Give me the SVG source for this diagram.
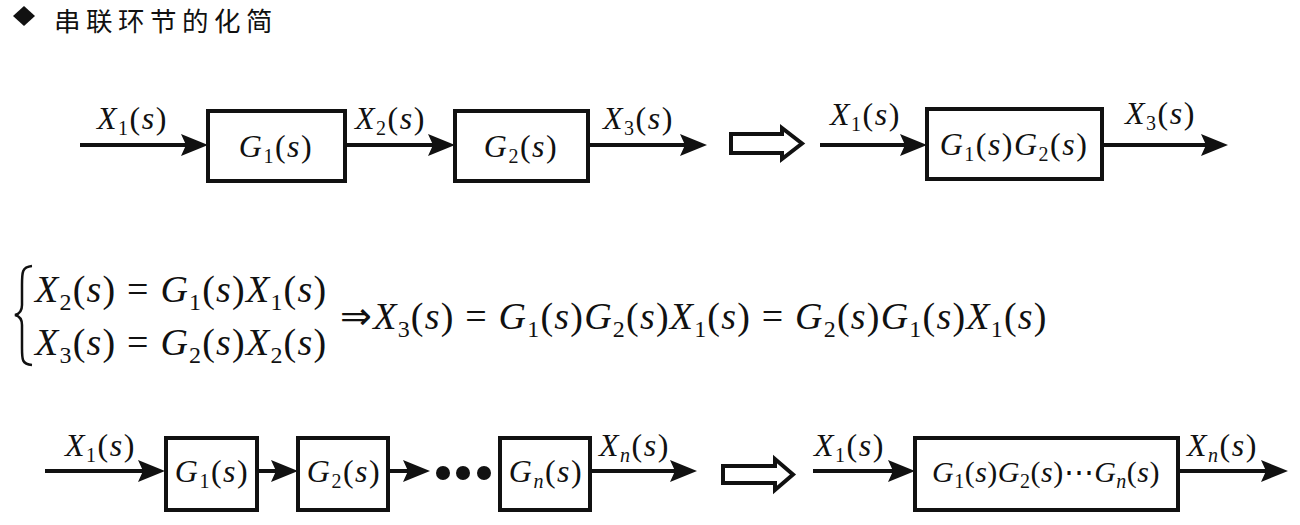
<svg xmlns="http://www.w3.org/2000/svg" width="1300" height="525" viewBox="0 0 1300 525">
<style>
.m{font-family:"Liberation Serif","Times New Roman",serif;font-size:32px;letter-spacing:1.5px;fill:#111}
.e{font-family:"Liberation Serif","Times New Roman",serif;font-size:38px;letter-spacing:1.2px;fill:#111}
.i{font-style:italic}
.s{font-size:20px}
.es{font-size:24px}
.box{fill:#fff;stroke:#111;stroke-width:4}
.ln{stroke:#111;stroke-width:4;fill:none;marker-end:url(#ah)}
.hol{fill:#fff;stroke:#111;stroke-width:4;stroke-linejoin:miter}
.t{font-family:"Noto Sans CJK SC","Noto Sans",sans-serif;font-size:26.5px;letter-spacing:5.5px;fill:#111}
</style>
<defs>
<marker id="ah" markerUnits="userSpaceOnUse" markerWidth="28" markerHeight="24" refX="16" refY="12" orient="auto">
<path d="M0,1 L27,12 L0,23 L5,12 Z" fill="#111"/>
</marker>
</defs>
<g id="title">
<path d="M24,6 L35,16 L24,26 L13,16 Z" fill="#111"/>
<text class="t" x="54" y="31">串联环节的化简</text>
</g>
<g id="connectors">
<line class="ln" x1="80" y1="145" x2="197" y2="145"/>
<line class="ln" x1="345" y1="145" x2="444" y2="145"/>
<line class="ln" x1="588" y1="145" x2="696" y2="145"/>
<line class="ln" x1="820" y1="145" x2="916" y2="145"/>
<line class="ln" x1="1102" y1="145" x2="1217" y2="145"/>
<line class="ln" x1="45" y1="471" x2="154" y2="471"/>
<line class="ln" x1="257" y1="471" x2="287" y2="471"/>
<line class="ln" x1="388" y1="471" x2="419" y2="471"/>
<line class="ln" x1="590" y1="471" x2="686" y2="471"/>
<line class="ln" x1="813" y1="471" x2="904" y2="471"/>
<line class="ln" x1="1178" y1="471" x2="1277" y2="471"/>
<circle cx="443" cy="473" r="7" fill="#111"/>
<circle cx="463" cy="473" r="7" fill="#111"/>
<circle cx="484" cy="473" r="7" fill="#111"/>
<path class="hol" d="M731,134 L782,134 L782,128 L802,143.5 L782,159 L782,153 L731,153 Z"/>
<path class="hol" d="M723,466 L775,466 L775,459 L793,474.5 L775,490 L775,483 L723,483 Z"/>
</g>
<g id="labels1">
<text class="m" x="97" y="129"><tspan class="i">X</tspan><tspan class="s" dy="6">1</tspan><tspan dy="-6">(</tspan><tspan class="i">s</tspan>)</text>
<text class="m" x="355" y="129"><tspan class="i">X</tspan><tspan class="s" dy="6">2</tspan><tspan dy="-6">(</tspan><tspan class="i">s</tspan>)</text>
<text class="m" x="603" y="129"><tspan class="i">X</tspan><tspan class="s" dy="6">3</tspan><tspan dy="-6">(</tspan><tspan class="i">s</tspan>)</text>
<text class="m" x="830" y="125"><tspan class="i">X</tspan><tspan class="s" dy="6">1</tspan><tspan dy="-6">(</tspan><tspan class="i">s</tspan>)</text>
<text class="m" x="1125" y="124"><tspan class="i">X</tspan><tspan class="s" dy="6">3</tspan><tspan dy="-6">(</tspan><tspan class="i">s</tspan>)</text>
</g>
<g id="G1">
<rect class="box" x="208" y="111" width="137" height="70"/>
<text class="m" x="276" y="157" text-anchor="middle"><tspan class="i">G</tspan><tspan class="s" dy="6">1</tspan><tspan dy="-6">(</tspan><tspan class="i">s</tspan>)</text>
</g>
<g id="G2">
<rect class="box" x="455" y="111" width="133" height="70"/>
<text class="m" x="521" y="157" text-anchor="middle"><tspan class="i">G</tspan><tspan class="s" dy="6">2</tspan><tspan dy="-6">(</tspan><tspan class="i">s</tspan>)</text>
</g>
<g id="G1G2">
<rect class="box" x="927" y="109" width="175" height="70"/>
<text class="m" x="1014" y="155" text-anchor="middle"><tspan class="i">G</tspan><tspan class="s" dy="6">1</tspan><tspan dy="-6">(</tspan><tspan class="i">s</tspan>)<tspan class="i">G</tspan><tspan class="s" dy="6">2</tspan><tspan dy="-6">(</tspan><tspan class="i">s</tspan>)</text>
</g>
<g id="equations">
<path d="M32,266 C22,267 22,272 22,285 L22,305 C22,311 19,314 15,315 C19,316 22,319 22,325 L22,348 C22,360 22,364 32,365" fill="none" stroke="#111" stroke-width="2.5"/>
<text class="e" x="35" y="302"><tspan class="i">X</tspan><tspan class="es" dy="8">2</tspan><tspan dy="-8">(</tspan><tspan class="i">s</tspan>) = <tspan class="i">G</tspan><tspan class="es" dy="8">1</tspan><tspan dy="-8">(</tspan><tspan class="i">s</tspan>)<tspan class="i">X</tspan><tspan class="es" dy="8">1</tspan><tspan dy="-8">(</tspan><tspan class="i">s</tspan>)</text>
<text class="e" x="35" y="355"><tspan class="i">X</tspan><tspan class="es" dy="8">3</tspan><tspan dy="-8">(</tspan><tspan class="i">s</tspan>) = <tspan class="i">G</tspan><tspan class="es" dy="8">2</tspan><tspan dy="-8">(</tspan><tspan class="i">s</tspan>)<tspan class="i">X</tspan><tspan class="es" dy="8">2</tspan><tspan dy="-8">(</tspan><tspan class="i">s</tspan>)</text>
<text class="e" x="340" y="329">⇒<tspan class="i">X</tspan><tspan class="es" dy="8">3</tspan><tspan dy="-8">(</tspan><tspan class="i">s</tspan>) = <tspan class="i">G</tspan><tspan class="es" dy="8">1</tspan><tspan dy="-8">(</tspan><tspan class="i">s</tspan>)<tspan class="i">G</tspan><tspan class="es" dy="8">2</tspan><tspan dy="-8">(</tspan><tspan class="i">s</tspan>)<tspan class="i">X</tspan><tspan class="es" dy="8">1</tspan><tspan dy="-8">(</tspan><tspan class="i">s</tspan>) = <tspan class="i">G</tspan><tspan class="es" dy="8">2</tspan><tspan dy="-8">(</tspan><tspan class="i">s</tspan>)<tspan class="i">G</tspan><tspan class="es" dy="8">1</tspan><tspan dy="-8">(</tspan><tspan class="i">s</tspan>)<tspan class="i">X</tspan><tspan class="es" dy="8">1</tspan><tspan dy="-8">(</tspan><tspan class="i">s</tspan>)</text>
</g>
<g id="labels3">
<text class="m" x="65" y="456"><tspan class="i">X</tspan><tspan class="s" dy="6">1</tspan><tspan dy="-6">(</tspan><tspan class="i">s</tspan>)</text>
<text class="m" x="599" y="456"><tspan class="i">X</tspan><tspan class="s i" dy="6">n</tspan><tspan dy="-6">(</tspan><tspan class="i">s</tspan>)</text>
<text class="m" x="814" y="456"><tspan class="i">X</tspan><tspan class="s" dy="6">1</tspan><tspan dy="-6">(</tspan><tspan class="i">s</tspan>)</text>
<text class="m" x="1187" y="456"><tspan class="i">X</tspan><tspan class="s i" dy="6">n</tspan><tspan dy="-6">(</tspan><tspan class="i">s</tspan>)</text>
</g>
<g id="B1">
<rect class="box" x="166" y="438" width="91" height="72"/>
<text class="m" x="212" y="482" text-anchor="middle"><tspan class="i">G</tspan><tspan class="s" dy="6">1</tspan><tspan dy="-6">(</tspan><tspan class="i">s</tspan>)</text>
</g>
<g id="B2">
<rect class="box" x="298" y="438" width="90" height="72"/>
<text class="m" x="344" y="482" text-anchor="middle"><tspan class="i">G</tspan><tspan class="s" dy="6">2</tspan><tspan dy="-6">(</tspan><tspan class="i">s</tspan>)</text>
</g>
<g id="Bn">
<rect class="box" x="500" y="438" width="90" height="72"/>
<text class="m" x="546" y="482" text-anchor="middle"><tspan class="i">G</tspan><tspan class="s i" dy="6">n</tspan><tspan dy="-6">(</tspan><tspan class="i">s</tspan>)</text>
</g>
<g id="Ball">
<rect class="box" x="915" y="438" width="263" height="72"/>
<text class="m" x="1046" y="482" text-anchor="middle" style="font-size:30px;letter-spacing:0.5px"><tspan class="i">G</tspan><tspan class="s" dy="6">1</tspan><tspan dy="-6">(</tspan><tspan class="i">s</tspan>)<tspan class="i">G</tspan><tspan class="s" dy="6">2</tspan><tspan dy="-6">(</tspan><tspan class="i">s</tspan>)⋯<tspan class="i">G</tspan><tspan class="s i" dy="6">n</tspan><tspan dy="-6">(</tspan><tspan class="i">s</tspan>)</text>
</g>
</svg>
